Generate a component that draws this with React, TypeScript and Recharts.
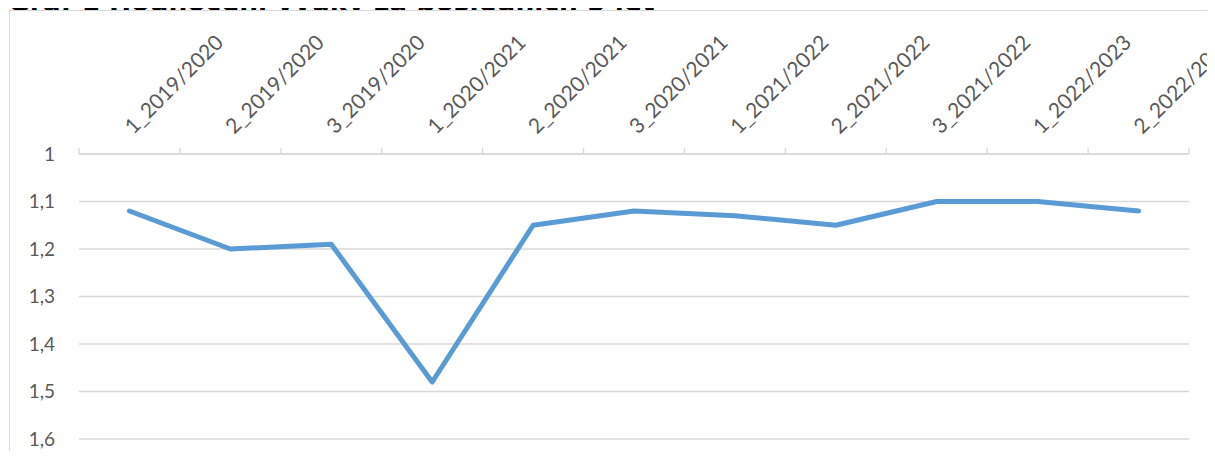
import React from 'react';
import { LineChart, Line, XAxis, YAxis, CartesianGrid } from 'recharts';

const categories = [
  '1_2019/2020', '2_2019/2020', '3_2019/2020',
  '1_2020/2021', '2_2020/2021', '3_2020/2021',
  '1_2021/2022', '2_2021/2022', '3_2021/2022',
  '1_2022/2023', '2_2022/2023',
];
const scores = [1.12, 1.2, 1.19, 1.48, 1.15, 1.12, 1.13, 1.15, 1.1, 1.1, 1.12];
const yTicks = [1, 1.1, 1.2, 1.3, 1.4, 1.5, 1.6];

const TITLE = 'Graf 1 Hodnocení výuky za posledních 5 let';
const LINE_COLOR = '#5B9BD5';
const GRID_COLOR = '#d9d9d9';
const TEXT_COLOR = '#595959';
const FONT = 'Lato, "Open Sans", sans-serif';

const PLOT_WIDTH = 1110;
const BAND = PLOT_WIDTH / categories.length;

const data = categories.map((name, i) => ({ name, score: scores[i] }));

const XTick = ({ x, y, payload, index }: any) => {
  const base = y + 8; // plot top
  const left = x - BAND / 2;
  const tx = x + 4;
  const ty = y - 11;
  return (
    <g>
      <line x1={left} y1={base - 6} x2={left} y2={base} stroke={GRID_COLOR} strokeWidth={1.3} />
      {index === categories.length - 1 && (
        <line x1={left + BAND} y1={base - 6} x2={left + BAND} y2={base} stroke={GRID_COLOR} strokeWidth={1.3} />
      )}
      <text
        x={tx}
        y={ty}
        transform={`rotate(-45 ${tx} ${ty})`}
        textAnchor="start"
        fill={TEXT_COLOR}
        fontSize={21}
        fontFamily={FONT}
      >
        {payload.value}
      </text>
    </g>
  );
};

const App: React.FC = () => {
  return (
    <div style={{ position: 'relative', width: 1207, height: 451, marginTop: -8, overflow: 'hidden', background: '#fff' }}>
      <div
        style={{
          position: 'absolute', left: 0, top: -11, whiteSpace: 'nowrap',
          fontFamily: '"DejaVu Sans", sans-serif', fontWeight: 'bold', fontSize: 26.5, lineHeight: '26px', color: '#000',
        }}
      >
        {TITLE}
      </div>
      <div
        style={{
          position: 'absolute', left: 1, top: 10, width: 1240, height: 480,
          border: `1px solid ${GRID_COLOR}`, background: '#fff',
        }}
      >
        <LineChart width={1240} height={470} data={data} margin={{ top: 0, right: 61, left: 0, bottom: 42 }}>
          <CartesianGrid vertical={false} stroke={GRID_COLOR} strokeWidth={1.3} />
          <XAxis
            dataKey="name"
            orientation="top"
            height={143}
            scale="band"
            axisLine={{ stroke: GRID_COLOR, strokeWidth: 1.3 }}
            tickLine={false}
            interval={0}
            tick={<XTick />}
          />
          <YAxis
            width={69}
            reversed
            domain={[1, 1.6]}
            ticks={yTicks}
            axisLine={false}
            tickLine={false}
            tickSize={0}
            tickMargin={24}
            tick={{ fill: TEXT_COLOR, fontSize: 19, fontFamily: FONT }}
            tickFormatter={(v: number) => String(v).replace('.', ',')}
          />
          <Line
            type="linear"
            dataKey="score"
            stroke={LINE_COLOR}
            strokeWidth={5}
            strokeLinecap="round"
            strokeLinejoin="round"
            dot={false}
            isAnimationActive={false}
          />
        </LineChart>
      </div>
    </div>
  );
};

export default App;
